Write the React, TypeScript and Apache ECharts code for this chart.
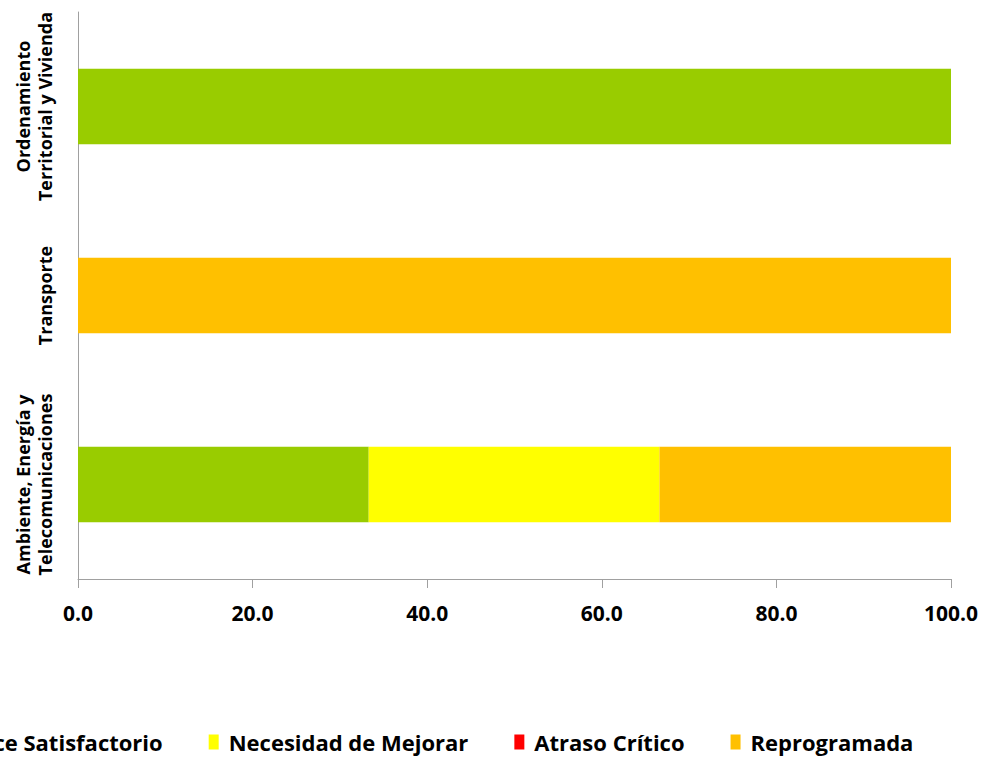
import React, { useEffect, useRef } from "react";
import * as echarts from "echarts";

const categories = [
  "Ambiente, Energía y\nTelecomunicaciones",
  "Transporte",
  "Ordenamiento\nTerritorial y Vivienda",
];
const seriesNames = ["Avance Satisfactorio", "Necesidad de Mejorar", "Atraso Crítico", "Reprogramada"];
const avanceSatisfactorio = [33.3, 0, 100];
const necesidadDeMejorar = [33.3, 0, 0];
const atrasoCritico = [0, 0, 0];
const reprogramada = [33.4, 100, 0];
const seriesColors = ["#99CC00", "#FFFF00", "#FF0000", "#FFC000"];
const xTicks = [0, 20, 40, 60, 80, 100];

const FONT = "'Open Sans', 'Roboto', sans-serif";

export default function App() {
  const ref = useRef<HTMLDivElement>(null);
  useEffect(() => {
    if (!ref.current) return;
    const chart = echarts.init(ref.current, null, { renderer: "svg" });
    const values = [avanceSatisfactorio, necesidadDeMejorar, atrasoCritico, reprogramada];
    chart.setOption({
      animation: false,
      backgroundColor: "#ffffff",
      grid: { left: 78, right: 37, top: 12, bottom: 178, containLabel: false },
      legend: {
        data: seriesNames,
        left: -82,
        top: 731,
        padding: 0,
        itemWidth: 10,
        itemHeight: 15,
        itemGap: 46,
        icon: "rect",
        textStyle: {
          fontFamily: FONT,
          fontWeight: "bold",
          fontSize: 22,
          color: "#000",
          padding: [0, 0, 0, 5],
        },
      },
      xAxis: {
        type: "value",
        min: xTicks[0],
        max: xTicks[xTicks.length - 1],
        interval: 20,
        splitLine: { show: false },
        axisLine: { show: true, lineStyle: { color: "#A0A0A0", width: 1 } },
        axisTick: { show: true, length: 9, inside: false, lineStyle: { color: "#A0A0A0" } },
        axisLabel: {
          margin: 23,
          fontFamily: FONT,
          fontWeight: "bold",
          fontSize: 21,
          color: "#000",
          formatter: (v: number) => v.toFixed(1),
        },
      },
      yAxis: {
        type: "category",
        data: categories,
        axisLine: { show: true, lineStyle: { color: "#A0A0A0", width: 1 } },
        axisTick: { show: false },
        axisLabel: {
          rotate: 90,
          interval: 0,
          margin: 22,
          fontFamily: FONT,
          fontWeight: "bold",
          fontSize: 18,
          lineHeight: 22,
          color: "#000",
        },
      },
      series: seriesNames.map((name, i) => ({
        name,
        type: "bar",
        stack: "total",
        barWidth: "40%",
        itemStyle: { color: seriesColors[i] },
        data: values[i],
      })),
    });
    return () => chart.dispose();
  }, []);
  return (
    <div
      ref={ref}
      style={{ position: "fixed", left: 0, top: 0, width: 988, height: 757, background: "#fff" }}
    />
  );
}
